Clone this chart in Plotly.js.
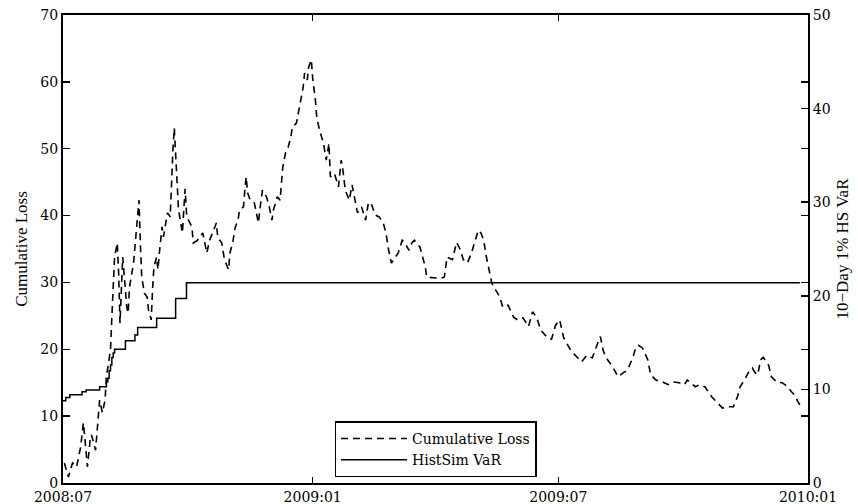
<!DOCTYPE html>
<html>
<head>
<meta charset="utf-8">
<script src="https://cdn.plot.ly/plotly-3.0.1.min.js"></script>
<style>
  html, body { margin: 0; padding: 0; background: #fff; }
  #chart { width: 858px; height: 504px; }
</style>
</head>
<body>
<div id="chart"></div>
<script>
// ---- Data ----
const lossDates = [
  "2008-07-02","2008-07-05","2008-07-08","2008-07-11","2008-07-14","2008-07-16","2008-07-17","2008-07-19",
  "2008-07-21","2008-07-22","2008-07-25","2008-07-26","2008-07-27","2008-07-28","2008-07-30","2008-08-01",
  "2008-08-02","2008-08-05","2008-08-06","2008-08-07","2008-08-08","2008-08-10","2008-08-11","2008-08-12",
  "2008-08-13","2008-08-14","2008-08-15","2008-08-16","2008-08-17","2008-08-18","2008-08-19","2008-08-22",
  "2008-08-23","2008-08-24","2008-08-25","2008-08-26","2008-08-27","2008-08-28","2008-08-30","2008-09-01",
  "2008-09-02","2008-09-04","2008-09-05","2008-09-06","2008-09-08","2008-09-09","2008-09-10","2008-09-12",
  "2008-09-13","2008-09-15","2008-09-16","2008-09-18","2008-09-19","2008-09-20","2008-09-21","2008-09-22",
  "2008-09-23","2008-09-24","2008-09-25","2008-09-27","2008-09-28","2008-09-29","2008-09-30","2008-10-01",
  "2008-10-04","2008-10-05","2008-10-08","2008-10-10","2008-10-12","2008-10-15","2008-10-17","2008-10-20",
  "2008-10-22","2008-10-23","2008-10-26","2008-10-28","2008-10-31","2008-11-01","2008-11-03","2008-11-05",
  "2008-11-07","2008-11-08","2008-11-11","2008-11-12","2008-11-13","2008-11-14","2008-11-16","2008-11-19",
  "2008-11-22","2008-11-23","2008-11-25","2008-11-28","2008-11-30","2008-12-02","2008-12-03","2008-12-06",
  "2008-12-08","2008-12-09","2008-12-10","2008-12-12","2008-12-14","2008-12-16","2008-12-17","2008-12-20",
  "2008-12-21","2008-12-23","2008-12-25","2008-12-26","2008-12-28","2008-12-29","2008-12-31","2009-01-01",
  "2009-01-03","2009-01-04","2009-01-06","2009-01-09","2009-01-11","2009-01-13","2009-01-14","2009-01-17",
  "2009-01-20","2009-01-22","2009-01-23","2009-01-25","2009-01-28","2009-01-30","2009-02-01","2009-02-03",
  "2009-02-06","2009-02-09","2009-02-11","2009-02-13","2009-02-16","2009-02-19","2009-02-22","2009-02-24",
  "2009-02-26","2009-02-28","2009-03-03","2009-03-05","2009-03-08","2009-03-10","2009-03-13","2009-03-15",
  "2009-03-17","2009-03-21","2009-03-23","2009-03-25","2009-03-26","2009-03-28","2009-03-31","2009-04-05",
  "2009-04-08","2009-04-10","2009-04-14","2009-04-17","2009-04-20","2009-04-22","2009-04-25","2009-04-28",
  "2009-04-30","2009-05-03","2009-05-05","2009-05-07","2009-05-09","2009-05-11","2009-05-13","2009-05-16",
  "2009-05-19","2009-05-21","2009-05-25","2009-05-29","2009-06-01","2009-06-05","2009-06-09","2009-06-12",
  "2009-06-15","2009-06-18","2009-06-23","2009-06-26","2009-06-29","2009-07-02","2009-07-05","2009-07-10",
  "2009-07-15","2009-07-18","2009-07-22","2009-07-26","2009-07-30","2009-08-01","2009-08-03","2009-08-05",
  "2009-08-10","2009-08-14","2009-08-18","2009-08-21","2009-08-25","2009-08-27","2009-08-29","2009-09-01",
  "2009-09-05","2009-09-07","2009-09-11","2009-09-16","2009-09-20","2009-09-24","2009-09-28","2009-10-02",
  "2009-10-04","2009-10-10","2009-10-13","2009-10-17","2009-10-22","2009-10-26","2009-10-30","2009-11-03",
  "2009-11-07","2009-11-10","2009-11-12","2009-11-16","2009-11-18","2009-11-21","2009-11-23","2009-11-25",
  "2009-11-27","2009-11-29","2009-12-03","2009-12-05","2009-12-09","2009-12-13","2009-12-17","2009-12-20",
  "2009-12-22","2009-12-25","2009-12-26"
];
const lossValues = [
  3.0,0.9,3.0,2.4,5.4,9.0,6.9,2.4,
  6.4,7.2,4.9,7.5,9.4,12.4,10.5,12.4,
  15.9,19.9,24.8,29.3,33.8,35.9,31.4,23.9,
  28.9,33.8,31.4,29.3,26.3,25.4,29.3,32.9,
  35.3,37.8,40.4,42.3,35.9,30.8,28.4,27.8,
  25.9,24.4,28.9,32.3,33.8,31.9,34.4,38.3,
  36.8,39.3,40.4,39.8,45.8,49.8,53.1,48.8,
  44.9,41.3,39.8,37.4,40.8,44.0,40.4,39.5,
  38.3,35.9,36.3,36.8,37.4,34.4,36.3,37.8,
  38.9,36.8,35.9,33.4,31.9,34.4,35.9,38.3,
  39.3,40.8,41.3,43.8,45.8,43.4,42.3,41.9,
  38.9,40.8,43.8,42.8,41.3,39.3,40.8,42.8,
  42.3,44.9,47.3,49.4,50.3,51.8,53.3,53.8,
  54.8,57.3,59.2,61.3,60.3,62.2,63.3,60.5,
  57.3,54.7,52.8,50.8,48.3,50.8,45.8,46.3,
  44.3,48.3,47.3,43.8,42.3,44.6,42.3,40.4,
  41.3,39.3,41.9,41.9,40.1,39.8,38.9,37.4,
  34.8,32.9,33.8,34.4,36.3,35.9,34.8,35.9,
  36.3,35.3,33.8,32.3,30.8,30.8,30.7,30.6,
  30.8,33.8,33.4,36.0,34.8,33.4,32.9,34.4,
  35.9,37.8,37.4,36.3,33.8,31.9,29.9,28.8,
  27.8,26.3,26.6,24.8,24.4,24.7,23.4,25.6,
  24.8,22.9,21.7,21.5,23.6,24.4,21.7,19.9,
  18.7,18.1,19.1,18.7,20.9,21.9,19.9,18.8,
  17.4,15.9,16.5,16.9,18.8,20.2,20.6,20.2,
  18.4,16.2,15.4,15.1,14.7,15.1,15.0,14.7,
  15.4,14.4,14.7,14.4,12.9,12.1,11.2,11.4,
  11.4,12.9,14.4,15.7,16.5,17.2,16.5,16.2,
  18.4,18.8,17.6,15.9,15.1,15.0,14.4,13.6,
  13.2,12.0,11.7
];

const varDates = [
  "2008-07-01","2008-07-03","2008-07-06","2008-07-15","2008-07-18","2008-07-28",
  "2008-08-02","2008-08-03","2008-08-04","2008-08-05","2008-08-06","2008-08-07","2008-08-08",
  "2008-08-16","2008-08-23","2008-08-25","2008-09-08","2008-09-22","2008-09-30","2009-12-26"
];
const varValues = [
  8.79,9.14,9.43,9.75,9.93,10.29,
  10.8,11.2,12.0,12.6,13.4,13.9,14.29,
  15.2,15.8,16.6,17.6,19.7,21.4,21.4
];

const xTickDates  = ["2008-07-01","2009-01-01","2009-07-01","2010-01-01"];
const xTickLabels = ["2008:07","2009:01","2009:07","2010:01"];
const leftTicks   = [0,10,20,30,40,50,60,70];
const rightTicks  = [0,10,20,30,40,50];

const seriesNames = ["Cumulative Loss","HistSim VaR"];

// ---- Chart ----
const tickFont = {family: "DejaVu Serif", size: 14, color: "#000"};
const titleFont = {family: "Liberation Serif", size: 17, color: "#000"};

const traces = [
  {
    x: lossDates, y: lossValues, name: seriesNames[0], type: "scatter", mode: "lines",
    yaxis: "y", line: {color: "#000", width: 1.6, dash: "7px,5px"}
  },
  {
    x: varDates, y: varValues, name: seriesNames[1], type: "scatter", mode: "lines",
    yaxis: "y2", line: {color: "#000", width: 1.5, shape: "hv"}
  }
];

const layout = {
  width: 858, height: 504,
  margin: {l: 63, r: 50, t: 15, b: 21},
  paper_bgcolor: "#fff", plot_bgcolor: "#fff",
  showlegend: true,
  legend: {
    x: 0.5, xanchor: "center", y: 0.012, yanchor: "bottom",
    bgcolor: "#fff", bordercolor: "#000", borderwidth: 1.5,
    font: {family: "DejaVu Serif", size: 14, color: "#000"},
    itemwidth: 66, tracegroupgap: 0
  },
  xaxis: {
    type: "date", range: ["2008-07-01", "2010-01-01"],
    tickmode: "array", tickvals: xTickDates, ticktext: xTickLabels,
    ticks: "inside", ticklen: 6, tickwidth: 1.5, tickcolor: "#000",
    showline: true, linecolor: "#000", linewidth: 2, mirror: "ticks",
    showgrid: false, zeroline: false, tickfont: tickFont, automargin: false
  },
  yaxis: {
    range: [0, 70], tickmode: "array", tickvals: leftTicks,
    ticks: "inside", ticklen: 7, tickwidth: 1.5, tickcolor: "#000",
    showline: true, linecolor: "#000", linewidth: 2, mirror: "ticks",
    showgrid: false, zeroline: false, tickfont: tickFont, automargin: false,
    title: {text: "Cumulative Loss", font: titleFont, standoff: 8}
  },
  yaxis2: {
    range: [0, 50], tickmode: "array", tickvals: rightTicks,
    overlaying: "y", side: "right",
    ticks: "inside", ticklen: 7, tickwidth: 1.5, tickcolor: "#000",
    showline: true, linecolor: "#000", linewidth: 2,
    showgrid: false, zeroline: false, tickfont: tickFont, automargin: false,
    title: {text: "10\u2212Day 1% HS VaR", font: titleFont, standoff: 6}
  }
};

Plotly.newPlot("chart", traces, layout, {staticPlot: true, displayModeBar: false});
</script>
</body>
</html>
